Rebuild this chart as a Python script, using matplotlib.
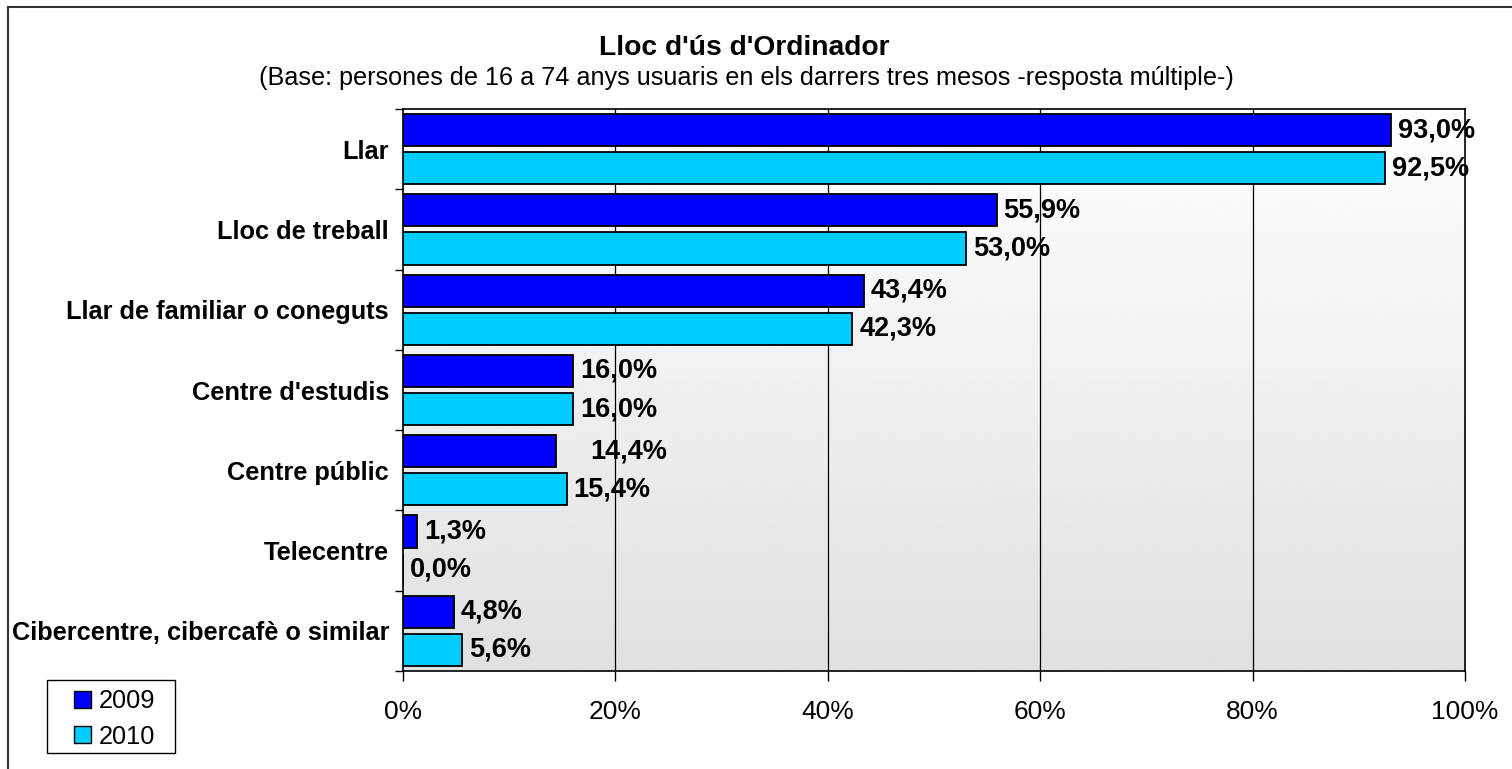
import numpy as np
import matplotlib
matplotlib.use("Agg")
import matplotlib.pyplot as plt
from matplotlib.patches import Patch, Rectangle
from matplotlib.lines import Line2D

plt.rcParams['font.family'] = ['Liberation Sans', 'DejaVu Sans']

categories = ["Llar", "Lloc de treball", "Llar de familiar o coneguts",
              "Centre d'estudis", "Centre públic", "Telecentre",
              "Cibercentre, cibercafè o similar"]
values_2009 = [93.0, 55.9, 43.4, 16.0, 14.4, 1.3, 4.8]
values_2010 = [92.5, 53.0, 42.3, 16.0, 15.4, 0.0, 5.6]
series_names = ["2009", "2010"]
x_ticks = [0, 20, 40, 60, 80, 100]
x_ticklabels = ["0%", "20%", "40%", "60%", "80%", "100%"]
title = "Lloc d'ús d'Ordinador"
subtitle = "(Base: persones de 16 a 74 anys usuaris en els darrers tres mesos -resposta múltiple-)"

# label extra offsets (points) for 2009 series (style only)
extra_off_2009 = [0, 0, 0, 0, 20, 0, 0]

col09 = "#0000FF"
col10 = "#00CCFF"

W, H = 1512, 769
fig = plt.figure(figsize=(W / 100, H / 100), dpi=100)
ax = fig.add_axes([403 / W, (H - 671) / H, (1465 - 403) / W, (671 - 109) / H])

n = len(categories)
y = np.arange(n)
bh = 0.40
off = 0.237

# gradient background
grad = np.linspace(1.0, 0.88, 256).reshape(-1, 1)
ax.imshow(grad, cmap="gray", vmin=0, vmax=1, aspect="auto",
          extent=[0, 100, n - 0.5, -0.5], zorder=0, interpolation="bicubic")

for gx in x_ticks[1:-1]:
    ax.axvline(gx, color="black", lw=0.9, zorder=1)

ax.barh(y - off, values_2009, height=bh, color=col09, edgecolor="black", lw=1.3, zorder=3)
ax.barh(y + off, values_2010, height=bh, color=col10, edgecolor="black", lw=1.3, zorder=3)

def fmt(v):
    return f"{v:.1f}".replace(".", ",") + "%"

for i, (v, e) in enumerate(zip(values_2009, extra_off_2009)):
    ax.annotate(fmt(v), (v, y[i] - off), xytext=(5 + e, 0), textcoords="offset points",
                va="center", ha="left", fontsize=19.5, fontweight="bold", zorder=4)
for i, v in enumerate(values_2010):
    ax.annotate(fmt(v), (v, y[i] + off), xytext=(5, 0), textcoords="offset points",
                va="center", ha="left", fontsize=19.5, fontweight="bold", zorder=4)

ax.set_xlim(0, 100)
ax.set_ylim(n - 0.5, -0.5)
ax.set_xticks(x_ticks)
ax.set_xticklabels(x_ticklabels, fontsize=19)
ax.tick_params(axis="x", length=7, width=1, pad=14, direction="out")
ax.set_yticks(np.arange(n + 1) - 0.5, minor=False)
ax.set_yticklabels([])
ax.set_yticks(y, minor=True)
ax.set_yticklabels(categories, minor=True, fontsize=18.3, fontweight="bold")
ax.tick_params(axis="y", which="major", length=6, width=1, direction="out")
ax.tick_params(axis="y", which="minor", length=0, pad=10)
for s in ax.spines.values():
    s.set_linewidth(1.2)
    s.set_color("black")

fig.text(744 / W, 1 - 55 / H, title, ha="center", va="baseline", fontsize=20.3, fontweight="bold")
fig.text(746.5 / W, 1 - 85 / H, subtitle, ha="center", va="baseline", fontsize=18.2)

# outer border lines (left and top)
fig.add_artist(Line2D([8 / W, 8 / W], [0, 1 - 7 / H], transform=fig.transFigure, color="#333333", lw=1.5))
fig.add_artist(Line2D([8 / W, 1], [1 - 7 / H, 1 - 7 / H], transform=fig.transFigure, color="#333333", lw=1.5))

# legend frame
fig.add_artist(Rectangle((47 / W, (H - 753) / H), (175 - 47) / W, (753 - 680) / H,
                         transform=fig.transFigure, facecolor="white", edgecolor="black",
                         lw=1.0, zorder=5))
handles = [Patch(facecolor=col09, edgecolor="black"), Patch(facecolor=col10, edgecolor="black")]
leg = fig.legend(handles, series_names, loc="upper left",
                 bbox_to_anchor=(74 / W, (H - 689) / H), borderaxespad=0,
                 fontsize=18.3, frameon=False,
                 handlelength=0.66, handleheight=0.66, handletextpad=0.3,
                 labelspacing=0.46, borderpad=0)
leg.set_zorder(6)

fig.savefig("out.png", dpi=100)
